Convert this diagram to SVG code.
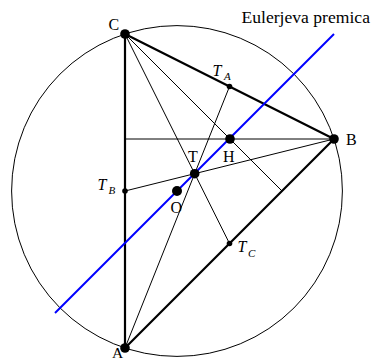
<svg xmlns="http://www.w3.org/2000/svg" width="376" height="362" viewBox="0 0 376 362">
<style>
.thin{stroke:#000;stroke-width:1;fill:none}
.thick{stroke:#000;stroke-width:2.2;fill:none;stroke-linejoin:round}
.euler{stroke:#0000ff;stroke-width:2;fill:none}
.big{fill:#000}
.lbl{font-family:"Liberation Serif","Times New Roman",serif;font-size:16px;fill:#000}
.it{font-style:italic}
.sub{font-size:11px;font-style:italic}
</style>
<rect width="376" height="362" fill="#fff"/>
<circle cx="177" cy="191" r="165.4" class="thin"/>
<g id="connectors">
<line class="thin" x1="334" y1="139" x2="125" y2="139"/>
<line class="thin" x1="125" y1="34" x2="282" y2="191"/>
<line class="thin" x1="125" y1="34" x2="229.5" y2="243.5"/>
<line class="thin" x1="125" y1="348" x2="229.5" y2="86.5"/>
<line class="thin" x1="334" y1="139" x2="125" y2="191"/>
<polygon class="thick" points="125,34 334,139 125,348"/>
<line class="euler" x1="55" y1="313" x2="334" y2="34"/>
</g>
<g id="C"><circle cx="125" cy="34" r="4.8" class="big"/><text class="lbl" x="108.5" y="30">C</text></g>
<g id="B"><circle cx="334" cy="139" r="4.8" class="big"/><text class="lbl" x="346" y="144.5">B</text></g>
<g id="A"><circle cx="125" cy="348" r="4.8" class="big"/><text class="lbl" x="112" y="358.3" style="font-size:15.5px">A</text></g>
<g id="T"><circle cx="194.7" cy="173.7" r="4.8" class="big"/><text class="lbl" x="188" y="162">T</text></g>
<g id="H"><circle cx="230" cy="139" r="4.8" class="big"/><text class="lbl" x="223" y="162">H</text></g>
<g id="O"><circle cx="177" cy="191" r="5" class="big"/><text class="lbl" x="170.5" y="212.5">O</text></g>
<g id="TA"><circle cx="229.5" cy="86.5" r="2.8" class="big"/><text class="lbl it" x="212.5" y="75.5">T<tspan class="sub" x="224" y="79.5">A</tspan></text></g>
<g id="TB"><circle cx="125" cy="191" r="2.8" class="big"/><text class="lbl it" x="97.5" y="190">T<tspan class="sub" x="108.5" y="194.3">B</tspan></text></g>
<g id="TC"><circle cx="229.5" cy="243.5" r="2.8" class="big"/><text class="lbl it" x="237.5" y="251.7">T<tspan class="sub" x="248" y="256.5">C</tspan></text></g>
<g id="label-euler"><text class="lbl" x="241.5" y="23" style="font-size:17.6px">Eulerjeva premica</text></g>
</svg>
